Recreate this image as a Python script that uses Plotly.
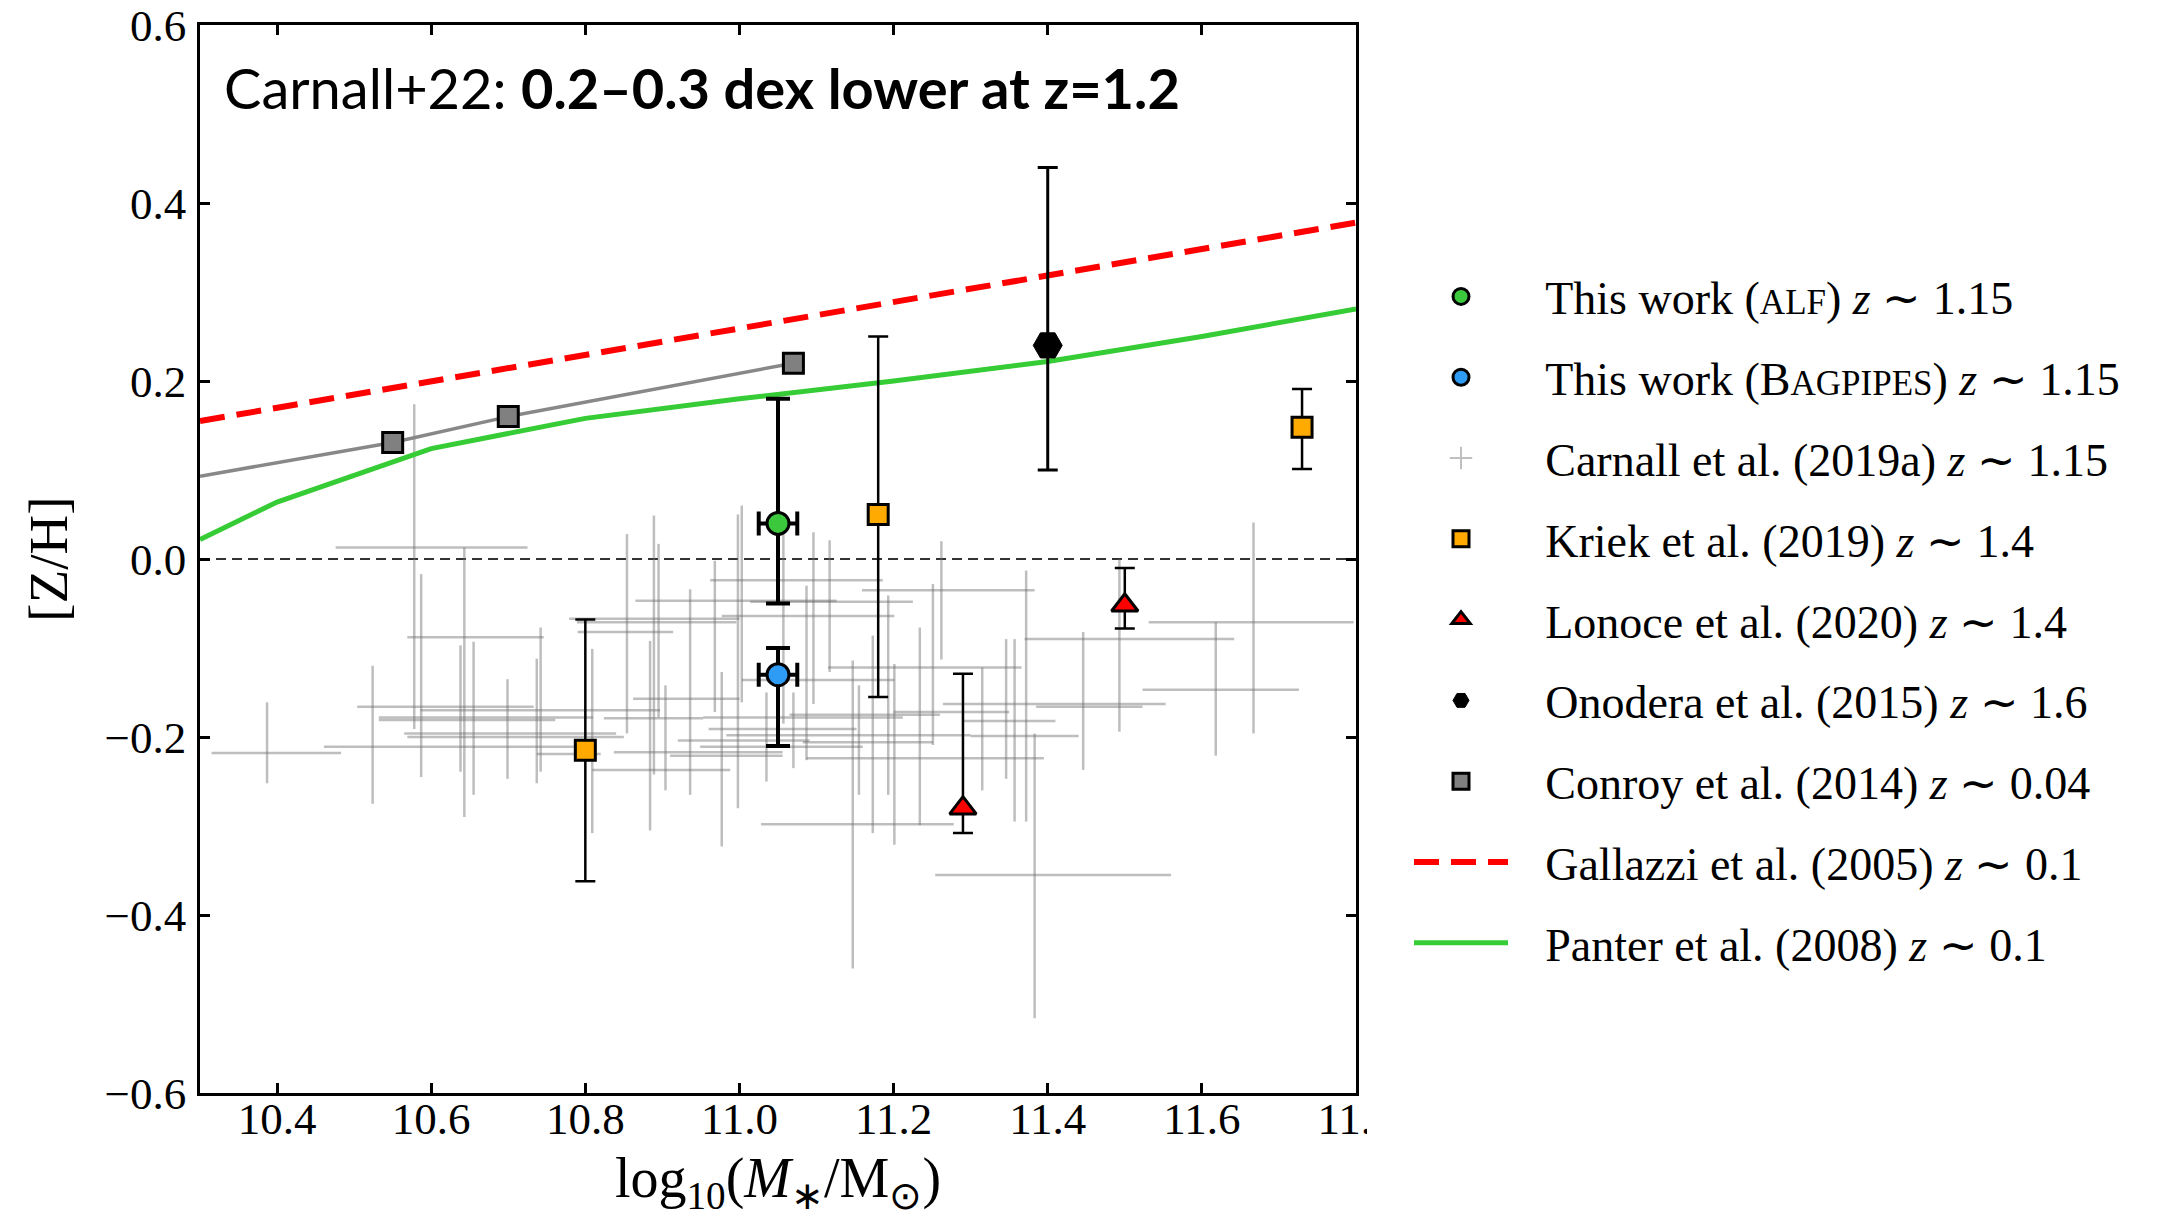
import plotly.graph_objects as go

# ---------------- data ----------------
# This work (two fitting codes)
alf_mass = [11.05]
alf_zh = [0.04]
alf_zh_up = [0.14]
alf_zh_dn = [0.09]
alf_mass_err = [0.025]

bag_mass = [11.05]
bag_zh = [-0.13]
bag_zh_up = [0.03]
bag_zh_dn = [0.08]
bag_mass_err = [0.025]

# Carnall et al. (2019a): individual galaxies, asymmetric intervals
carnall_mass = [10.387, 10.578, 10.643, 10.524, 10.587, 10.638, 10.655, 10.699, 10.737, 10.742,
                10.809, 10.854, 10.889, 10.895, 10.884, 10.904, 10.936, 10.968, 10.977, 10.998,
                11.003, 11.057, 11.035, 11.087, 11.096, 11.117, 11.147, 11.155, 11.173, 11.193,
                11.201, 11.234, 11.251, 11.070, 11.667, 11.618, 11.493, 11.446, 11.372, 11.262,
                11.383, 11.315, 11.346, 11.357]
carnall_zh = [-0.218, 0.013, -0.088, -0.211, -0.166, -0.181, -0.196, -0.200, -0.178, -0.170,
              -0.219, -0.082, -0.071, -0.067, -0.237, -0.179, -0.157, -0.047, -0.217, -0.064,
              -0.024, -0.048, -0.221, -0.204, -0.136, -0.122, -0.298, -0.211, -0.178, -0.198,
              -0.206, -0.224, -0.175, -0.191, -0.071, -0.147, -0.090, -0.166, -0.163, -0.035,
              -0.355, -0.172, -0.182, -0.199]
carnall_mass_lo = [10.315, 10.476, 10.569, 10.461, 10.504, 10.532, 10.565, 10.569, 10.532, 10.586,
                   10.737, 10.790, 10.789, 10.779, 10.809, 10.824, 10.862, 10.865, 10.837, 10.977,
                   10.962, 11.014, 10.910, 10.920, 11.003, 11.115, 11.028, 10.949, 10.953, 10.983,
                   11.082, 11.087, 11.065, 10.960, 11.531, 11.523, 11.370, 11.385, 11.264, 11.159,
                   11.254, 11.200, 11.290, 11.300]
carnall_mass_hi = [10.483, 10.725, 10.746, 10.790, 10.733, 10.761, 10.840, 10.850, 10.810, 10.897,
                   10.820, 10.914, 10.996, 11.000, 10.988, 10.953, 11.000, 11.126, 11.056, 11.201,
                   11.186, 11.225, 11.056, 11.091, 11.201, 11.366, 11.278, 11.160, 11.212, 11.300,
                   11.251, 11.395, 11.260, 11.152, 11.797, 11.726, 11.642, 11.523, 11.553, 11.383,
                   11.560, 11.350, 11.410, 11.440]
carnall_zh_lo = [-0.252, -0.191, -0.290, -0.275, -0.245, -0.239, -0.265, -0.247, -0.252, -0.239,
                 -0.308, -0.196, -0.242, -0.178, -0.305, -0.260, -0.265, -0.172, -0.323, -0.280,
                 -0.161, -0.185, -0.250, -0.226, -0.163, -0.127, -0.460, -0.265, -0.308, -0.265,
                 -0.321, -0.299, -0.209, -0.235, -0.196, -0.221, -0.194, -0.237, -0.295, -0.113,
                 -0.516, -0.260, -0.247, -0.295]
carnall_zh_hi = [-0.161, 0.174, 0.013, -0.120, -0.017, -0.097, -0.093, -0.135, -0.112, -0.077,
                 -0.101, 0.028, 0.049, 0.017, -0.092, -0.142, -0.034, -0.002, -0.127, 0.050,
                 0.060, 0.050, -0.150, -0.030, 0.030, 0.021, -0.114, -0.142, -0.086, -0.041,
                 -0.118, -0.077, -0.028, -0.150, 0.041, -0.071, 0.000, -0.082, -0.013, 0.020,
                 -0.196, -0.122, -0.090, -0.090]

# Kriek et al. (2019)
kriek_mass = [10.80, 11.18, 11.73]
kriek_zh = [-0.215, 0.050, 0.148]
kriek_zh_up = [0.147, 0.200, 0.043]
kriek_zh_dn = [0.147, 0.205, 0.047]

# Lonoce et al. (2020)
lonoce_mass = [11.29, 11.50]
lonoce_zh = [-0.280, -0.052]
lonoce_zh_up = [0.151, 0.042]
lonoce_zh_dn = [0.028, 0.026]

# Onodera et al. (2015)
onodera_mass = [11.40]
onodera_zh = [0.24]
onodera_zh_up = [0.20]
onodera_zh_dn = [0.14]

# Conroy et al. (2014)
conroy_mass = [10.55, 10.70, 11.07]
conroy_zh = [0.131, 0.160, 0.220]
conroy_line_mass = [10.30, 10.55, 10.70, 11.07]
conroy_line_zh = [0.093, 0.131, 0.160, 0.220]

# Gallazzi et al. (2005) relation
gallazzi_mass = [10.30, 11.80]
gallazzi_zh = [0.155, 0.378]

# Panter et al. (2008) relation
panter_mass = [10.30, 10.40, 10.60, 10.80, 11.00, 11.20, 11.40, 11.60, 11.80]
panter_zh = [0.022, 0.064, 0.124, 0.158, 0.180, 0.200, 0.222, 0.250, 0.281]

x_ticks = [10.4, 10.6, 10.8, 11.0, 11.2, 11.4, 11.6, 11.8]
y_ticks = [-0.6, -0.4, -0.2, 0.0, 0.2, 0.4, 0.6]

# ---------------- styling ----------------
SERIF = "Liberation Serif"
LEG = "\u2002\u2009"
SC = "<span style='font-size:35px'>{}</span>"
GREY = "rgba(110,110,110,0.45)"

fig = go.Figure()

# Carnall crosses (drawn first, behind everything)
fig.add_trace(go.Scatter(
    x=carnall_mass, y=carnall_zh, mode="markers",
    marker=dict(size=0.1, opacity=0),
    error_x=dict(type="data", symmetric=False,
                 array=[h - m for h, m in zip(carnall_mass_hi, carnall_mass)],
                 arrayminus=[m - l for l, m in zip(carnall_mass_lo, carnall_mass)],
                 color=GREY, thickness=2.5, width=0),
    error_y=dict(type="data", symmetric=False,
                 array=[h - z for h, z in zip(carnall_zh_hi, carnall_zh)],
                 arrayminus=[z - l for l, z in zip(carnall_zh_lo, carnall_zh)],
                 color=GREY, thickness=2.5, width=0),
    showlegend=False, hoverinfo="skip"))

# legend key for the Carnall sample
fig.add_trace(go.Scatter(
    x=[None], y=[None], mode="markers",
    marker=dict(symbol="cross-thin", size=16, color="rgba(150,150,150,0.6)",
                line=dict(color="rgba(150,150,150,0.6)", width=2)),
    name=LEG + "Carnall et al. (2019a) <i>z</i> ∼ 1.15",
    legendgroup="c19", legendrank=3))

# Relations
fig.add_trace(go.Scatter(
    x=gallazzi_mass, y=gallazzi_zh, mode="lines",
    line=dict(color="#ff0000", width=6, dash="25px,12px"),
    name=LEG + "Gallazzi et al. (2005) <i>z</i> ∼ 0.1",
    legendgroup="g05", legendrank=8))
fig.add_trace(go.Scatter(
    x=panter_mass, y=panter_zh, mode="lines",
    line=dict(color="#35cc35", width=5),
    name=LEG + "Panter et al. (2008) <i>z</i> ∼ 0.1",
    legendgroup="p08", legendrank=9))

# Conroy
fig.add_trace(go.Scatter(
    x=conroy_line_mass, y=conroy_line_zh, mode="lines",
    line=dict(color="#888888", width=3.5), showlegend=False, hoverinfo="skip"))
fig.add_trace(go.Scatter(
    x=conroy_mass, y=conroy_zh, mode="markers",
    marker=dict(symbol="square", size=20, color="#808080", line=dict(color="black", width=3)),
    name=LEG + "Conroy et al. (2014) <i>z</i> ∼ 0.04",
    legendgroup="c14", legendrank=7))

# Kriek
fig.add_trace(go.Scatter(
    x=kriek_mass, y=kriek_zh, mode="markers",
    marker=dict(symbol="square", size=20, color="#ffaa00", line=dict(color="black", width=3)),
    error_y=dict(type="data", symmetric=False, array=kriek_zh_up, arrayminus=kriek_zh_dn,
                 color="black", thickness=2.5, width=10),
    name=LEG + "Kriek et al. (2019) <i>z</i> ∼ 1.4",
    legendgroup="k19", legendrank=4))

# Lonoce
fig.add_trace(go.Scatter(
    x=lonoce_mass, y=lonoce_zh, mode="markers",
    marker=dict(symbol="triangle-up", size=23, color="#ff0000", line=dict(color="black", width=3)),
    error_y=dict(type="data", symmetric=False, array=lonoce_zh_up, arrayminus=lonoce_zh_dn,
                 color="black", thickness=2.5, width=10),
    name=LEG + "Lonoce et al. (2020) <i>z</i> ∼ 1.4",
    legendgroup="l20", legendrank=5))

# Onodera
fig.add_trace(go.Scatter(
    x=onodera_mass, y=onodera_zh, mode="markers",
    marker=dict(symbol="hexagon2", size=29, color="black", line=dict(color="black", width=1)),
    error_y=dict(type="data", symmetric=False, array=onodera_zh_up, arrayminus=onodera_zh_dn,
                 color="black", thickness=3, width=10),
    name=LEG + "Onodera et al. (2015) <i>z</i> ∼ 1.6",
    legendgroup="o15", legendrank=6))

# This work
fig.add_trace(go.Scatter(
    x=alf_mass, y=alf_zh, mode="markers",
    marker=dict(symbol="circle", size=22, color="#3cc83c", line=dict(color="black", width=3)),
    error_y=dict(type="data", symmetric=False, array=alf_zh_up, arrayminus=alf_zh_dn,
                 color="black", thickness=4, width=12),
    error_x=dict(type="data", array=alf_mass_err, color="black", thickness=4, width=12),
    name=LEG + "This work (" + SC.format("ALF") + ") <i>z</i> ∼ 1.15",
    legendgroup="alf", legendrank=1))
fig.add_trace(go.Scatter(
    x=bag_mass, y=bag_zh, mode="markers",
    marker=dict(symbol="circle", size=22, color="#2e9cf4", line=dict(color="black", width=3)),
    error_y=dict(type="data", symmetric=False, array=bag_zh_up, arrayminus=bag_zh_dn,
                 color="black", thickness=4, width=12),
    error_x=dict(type="data", array=bag_mass_err, color="black", thickness=4, width=12),
    name=LEG + "This work (B" + SC.format("AGPIPES") + ") <i>z</i> ∼ 1.15",
    legendgroup="bag", legendrank=2))

# ---------------- layout ----------------
PL, PR, PT, PB = 200, 1356, 25, 1093
W, H = 2168, 1217


def px_to_paper_x(px):
    return (px - PL) / (PR - PL)


def px_to_paper_y(py):
    return 1 - (py - PT) / (PB - PT)


axis_common = dict(
    showline=True, linecolor="black", linewidth=2.5, mirror="ticks",
    ticks="inside", ticklen=10, tickwidth=2.5, tickcolor="black",
    showgrid=False, zeroline=False, automargin=False,
    tickfont=dict(family=SERIF, size=45, color="black"),
)

fig.update_layout(
    width=W, height=H,
    margin=dict(l=PL, r=W - PR, t=PT, b=H - PB, pad=0, autoexpand=False),
    paper_bgcolor="white", plot_bgcolor="white",
    xaxis=dict(range=[10.3, 11.8], tickvals=x_ticks, tickformat=".1f",
               ticklabelstandoff=-16,
               title=dict(text="log<sub>10</sub>(<i>M</i><sub>∗</sub>/M<sub>⊙</sub>)",
                          font=dict(family=SERIF, size=56, color="black"), standoff=42),
               **axis_common),
    yaxis=dict(range=[-0.6, 0.6], tickvals=y_ticks, tickformat=".1f",
               ticklabelstandoff=2,
               title=dict(text="[Z/H]", font=dict(family=SERIF, size=55, color="black"),
                          standoff=20),
               **axis_common),
    legend=dict(x=px_to_paper_x(1409), xanchor="left",
                y=px_to_paper_y(260), yanchor="top",
                font=dict(family=SERIF, size=46, color="black"),
                bgcolor="rgba(0,0,0,0)", borderwidth=0,
                itemwidth=94, tracegroupgap=18, traceorder="grouped",
                itemclick=False, itemdoubleclick=False),
    shapes=[
        # reference line at solar metallicity
        dict(type="line", xref="paper", yref="y", x0=0, x1=1, y0=0, y1=0,
             line=dict(color="#333333", width=2.2, dash="10px,6px"), layer="below"),
        # blank strip where the figure panel is cut
        dict(type="rect", xref="paper", yref="paper",
             x0=px_to_paper_x(1367), x1=px_to_paper_x(1430),
             y0=px_to_paper_y(1160), y1=px_to_paper_y(1097),
             fillcolor="white", line=dict(width=0), layer="above"),
    ],
    annotations=[
        dict(text="Carnall+22: <b>0.2–0.3 dex lower at z=1.2</b>",
             xref="paper", yref="paper", x=px_to_paper_x(222), y=px_to_paper_y(87),
             xanchor="left", yanchor="middle", showarrow=False,
             font=dict(family="Lato", size=56, color="black")),
    ],
)

fig.write_html("out.html")
